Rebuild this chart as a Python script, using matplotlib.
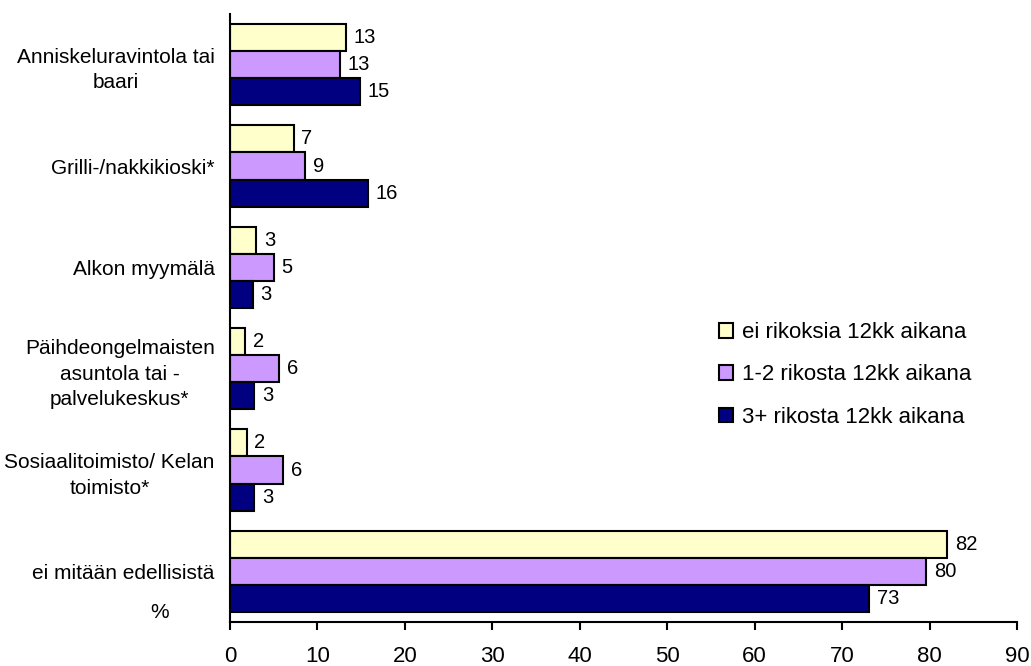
import matplotlib
matplotlib.use("Agg")
import matplotlib.pyplot as plt
import numpy as np

categories = ["Anniskeluravintola tai\nbaari", "Grilli-/nakkikioski*", "Alkon myymälä",
              "Päihdeongelmaisten\nasuntola tai -\npalvelukeskus*",
              "Sosiaalitoimisto/ Kelan\ntoimisto*", "ei mitään edellisistä"]
series_names = ["ei rikoksia 12kk aikana", "1-2 rikosta 12kk aikana", "3+ rikosta 12kk aikana"]
ei_rikoksia = [13.3, 7.3, 3.0, 1.7, 1.9, 82.0]
rikosta_1_2 = [12.6, 8.6, 5.0, 5.6, 6.1, 79.6]
rikosta_3 = [14.9, 15.8, 2.6, 2.8, 2.8, 73.1]
labels_ei = ["13", "7", "3", "2", "2", "82"]
labels_12 = ["13", "9", "5", "6", "6", "80"]
labels_3 = ["15", "16", "3", "3", "3", "73"]
xticks = [0, 10, 20, 30, 40, 50, 60, 70, 80, 90]

colors = ["#FFFFCC", "#CC99FF", "#000080"]
plt.rcParams['font.family'] = ['Liberation Sans', 'DejaVu Sans']
fs_cat = 15
fs_val = 14.5
fs_tick = 16
fs_leg = 16

fig = plt.figure(figsize=(10.31, 6.66), dpi=100)
ax = fig.add_axes([230/1031, 1-622/666, (1017-230)/1031, (622-14)/666])

y = np.arange(len(categories))
h = 0.267
data = [ei_rikoksia, rikosta_1_2, rikosta_3]
labs = [labels_ei, labels_12, labels_3]
for k in range(3):
    yy = y + (k - 1) * h
    bars = ax.barh(yy, data[k], height=h, color=colors[k], edgecolor='black',
                   linewidth=1.5, label=series_names[k])
    for b, t in zip(bars, labs[k]):
        ax.annotate(t, (b.get_width(), b.get_y() + b.get_height()/2),
                    xytext=(5.5, 0), textcoords='offset points',
                    ha='left', va='center', fontsize=fs_val)

ax.set_xlim(0, 90)
ax.set_ylim(len(categories) - 0.5, -0.5)
ax.set_xticks(xticks)
ax.set_xticklabels([str(v) for v in xticks], fontsize=fs_tick)
ax.tick_params(axis='x', direction='out', length=6, width=1.5, pad=11)
ax.set_yticks(y)
ax.set_yticklabels(categories, fontsize=fs_cat, multialignment='center', linespacing=1.45)
ax.tick_params(axis='y', length=0, pad=11)
for s in ['top', 'right']:
    ax.spines[s].set_visible(False)
for s in ['left', 'bottom']:
    ax.spines[s].set_linewidth(1.5)

fig.text(160/1031, 1-613/666, "%", fontsize=fs_cat, ha='center', va='center')

leg = ax.legend(loc='center left', bbox_to_anchor=(719/1031, 1-375/666),
                bbox_transform=fig.transFigure, frameon=False, fontsize=fs_leg,
                handlelength=0.62, handleheight=0.62, handletextpad=0.4,
                labelspacing=0.95, borderaxespad=0, borderpad=0)
fig.savefig("out.png", dpi=100)
